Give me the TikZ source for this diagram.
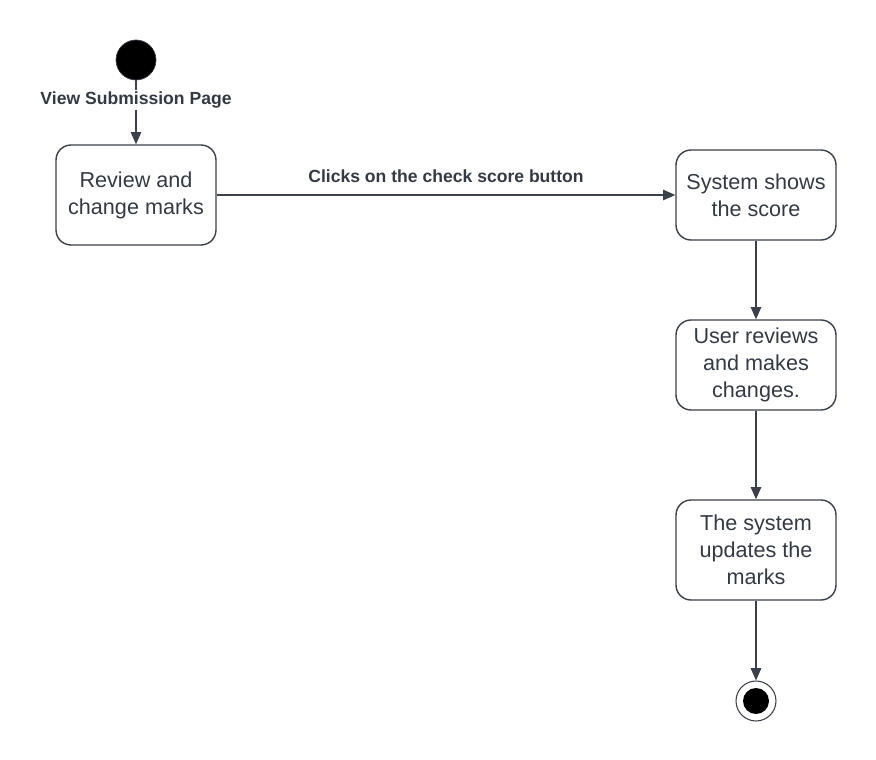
\documentclass[tikz,border=0pt]{standalone}
\usepackage{fontspec}
\setmainfont{Liberation Sans}
\usetikzlibrary{arrows.meta}
\definecolor{linegray}{HTML}{3A414A}
\definecolor{textgray}{HTML}{333A44}
\tikzset{
	state/.style={draw=linegray, line width=0.8pt, rounded corners=0.3cm, align=center,
		minimum width=3.2cm, text=textgray, font=\fontsize{12.3}{15.3}\selectfont},
	flow/.style={draw=linegray, line width=0.8pt, -{Triangle[length=7pt,width=6pt]}},
	guard/.style={font=\bfseries\fontsize{10}{12}\selectfont, text=textgray}
}
\begin{document}
\begin{tikzpicture}[x=0.02cm, y=-0.02cm]
		\useasboundingbox (0,0) rectangle (876,760);
		% start and end
		\node[circle, fill=black, draw=linegray, minimum size=0.8cm, inner sep=0pt] (start) at (136,60) {};
		\node[circle, draw=linegray, line width=0.6pt, minimum size=0.8cm, inner sep=0pt] (stop) at (756,701) {};
		\fill[black] (stop) circle (0.26cm);
		% states
		\node[state, minimum height=2cm] (review) at (136,195) {Review and\\change marks};
		\node[state, minimum height=1.8cm] (score) at (756,195) {System shows\\the score};
		\node[state, minimum height=1.8cm] (changes) at (756,365) {User reviews\\and makes\\changes.};
		\node[state, minimum height=2cm] (update) at (756,550) {The system\\updates the\\marks};
		% transitions
		\draw[flow] (start) -- node[pos=0.3, fill=white, guard, inner sep=1pt] {View Submission Page} (review);
		\draw[flow] (review) -- node[above=0.12cm, guard] {Clicks on the check score button} (score);
		\draw[flow] (score) -- (changes);
		\draw[flow] (changes) -- (update);
		\draw[flow] (update) -- (stop);
		\end{tikzpicture}
\end{document}
